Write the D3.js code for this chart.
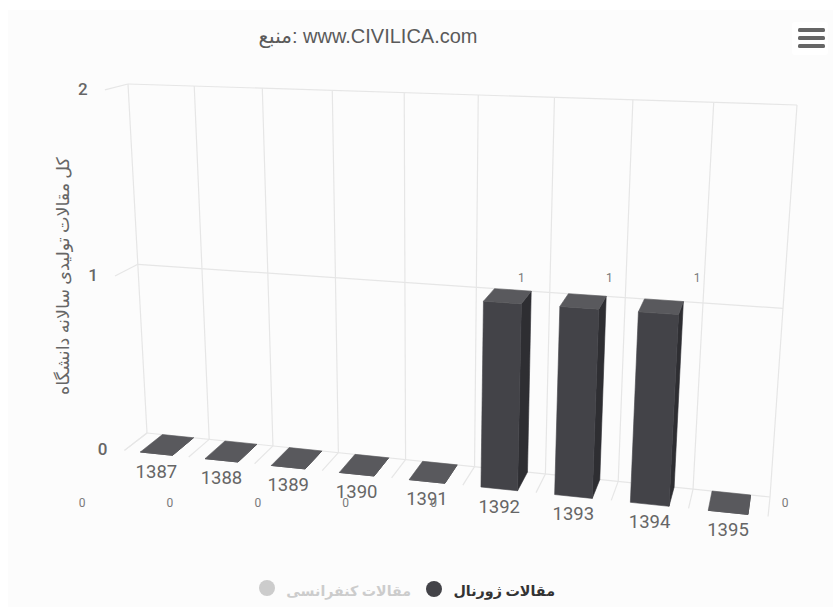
<!DOCTYPE html>
<html>
<head>
<meta charset="utf-8">
<script src="https://cdn.jsdelivr.net/npm/d3@7"></script>
<style>
  body { margin: 0; background: #fff; }
  text { font-family: Roboto, "DejaVu Sans", sans-serif; }
</style>
</head>
<body>
<div id="chart"></div>
<script>
// chart data
var years = ["1387", "1388", "1389", "1390", "1391", "1392", "1393", "1394", "1395"];
var journalPapers = [0, 0, 0, 0, 0, 1, 1, 1, 0];
var yTicks = [0, 1, 2];
var titleText = "منبع: www.CIVILICA.com";
var yAxisTitle = "کل مقالات تولیدی سالانه دانشگاه";
var journalName = "مقالات ژورنال";
var conferenceName = "مقالات کنفرانسی";

var width = 833, height = 607;

var svg = d3.select("#chart")
    .append("svg")
    .attr("width", width)
    .attr("height", height);

svg.append("rect")
    .attr("x", 8).attr("y", 10)
    .attr("width", width - 8).attr("height", height - 10)
    .attr("fill", "#fcfcfc");

// scales work in the unit cube, project() turns that into pixels
var xBand = d3.scaleBand().domain(years).range([0, 1]).paddingInner(0.5).paddingOuter(0.25);
var xGrid = d3.scaleLinear().domain([0, years.length]).range([0, 1]);
var yUnit = d3.scaleLinear().domain([0, 2]).range([0, 1]);

// back wall corners: bottom left, bottom right, top right, top left
var wall = [[147, 433], [770, 497], [797, 105], [128, 84]];
var vanish = [829, -93];   // depth lines meet here
var depthGrow = 0.033;

var dx1 = wall[1][0] - wall[2][0], dx2 = wall[3][0] - wall[2][0],
    dx3 = wall[0][0] - wall[1][0] + wall[2][0] - wall[3][0],
    dy1 = wall[1][1] - wall[2][1], dy2 = wall[3][1] - wall[2][1],
    dy3 = wall[0][1] - wall[1][1] + wall[2][1] - wall[3][1],
    det = dx1 * dy2 - dx2 * dy1,
    g = (dx3 * dy2 - dx2 * dy3) / det,
    h = (dx1 * dy3 - dx3 * dy1) / det,
    a = wall[1][0] - wall[0][0] + g * wall[1][0],
    b = wall[3][0] - wall[0][0] + h * wall[3][0],
    d = wall[1][1] - wall[0][1] + g * wall[1][1],
    e = wall[3][1] - wall[0][1] + h * wall[3][1];

function project(u, v, w) {
    var q = g * u + h * v + 1;
    var px = (a * u + b * v + wall[0][0]) / q;
    var py = (d * u + e * v + wall[0][1]) / q;
    var s = 1 + depthGrow * w;
    return [vanish[0] + s * (px - vanish[0]), vanish[1] + s * (py - vanish[1])];
}

var line = d3.line();

// Grid
// --------------------------------------------------------------------------------
var grid = svg.append("g")
    .attr("fill", "none")
    .attr("stroke", "#e6e6e6")
    .attr("stroke-width", 1.2);

// vertical lines on the back wall and depth lines on the floor
d3.range(years.length + 1).forEach(function (i) {
    var u = xGrid(i);
    grid.append("path").attr("d", line([project(u, 0, 0), project(u, 1, 0)]));
    grid.append("path").attr("d", line([project(u, 0, 0), project(u, 0, 1)]));
});

// horizontal lines on the back wall with the short piece on the left
yTicks.forEach(function (t) {
    var v = yUnit(t);
    grid.append("path").attr("d", line([project(0, v, 0), project(1, v, 0)]));
    grid.append("path").attr("d", line([project(0, v, 0), project(0, v, 1)]));
});

// y tick labels
svg.append("g").selectAll("text")
    .data(yTicks)
    .enter()
    .append("text")
    .attr("x", function (t) { return project(0, yUnit(t), 1)[0] - 22; })
    .attr("y", function (t) { return project(0, yUnit(t), 1)[1] + 5; })
    .attr("text-anchor", "middle")
    .attr("font-size", 17)
    .attr("font-weight", 500)
    .attr("fill", "#666666")
    .text(function (t) { return t; });

// Bars
// --------------------------------------------------------------------------------
var bars = svg.append("g");

function face(points, color) {
    bars.append("path")
        .attr("d", line(points) + "Z")
        .attr("fill", color)
        .attr("stroke", color)
        .attr("stroke-width", 0.6)
        .attr("stroke-linejoin", "round");
}

years.forEach(function (year, i) {
    var u0 = xBand(year),
        u1 = u0 + xBand.bandwidth(),
        top = yUnit(journalPapers[i]);

    // right side
    face([project(u1, 0, 1), project(u1, 0, 0), project(u1, top, 0), project(u1, top, 1)], "#2e2e32");
    // front
    face([project(u0, 0, 1), project(u1, 0, 1), project(u1, top, 1), project(u0, top, 1)], "#434348");
    // top
    face([project(u0, top, 1), project(u1, top, 1), project(u1, top, 0), project(u0, top, 0)], "#59595d");
});

// year labels under the front edge
svg.append("g").selectAll("text")
    .data(years)
    .enter()
    .append("text")
    .attr("x", function (y) { return project(xBand(y) + xBand.bandwidth() / 2, 0, 1)[0]; })
    .attr("y", function (y) { return project(xBand(y) + xBand.bandwidth() / 2, 0, 1)[1] + 24; })
    .attr("text-anchor", "middle")
    .attr("font-size", 18.5)
    .attr("fill", "#666666")
    .text(function (y) { return y; });

// data labels sit on a flat, unprojected grid
var xLabel = d3.scalePoint().domain(years).range([82, 785]);
var yLabel = d3.scaleLinear().domain([0, 1]).range([507, 282]);

svg.append("g").selectAll("text")
    .data(journalPapers)
    .enter()
    .append("text")
    .attr("x", function (v, i) { return xLabel(years[i]); })
    .attr("y", function (v) { return yLabel(v); })
    .attr("text-anchor", "middle")
    .attr("font-size", 12)
    .attr("fill", "#7a7a7a")
    .text(function (v) { return v; });

// Title and axis title
// --------------------------------------------------------------------------------
svg.append("text")
    .attr("x", 368)
    .attr("y", 43)
    .attr("text-anchor", "middle")
    .attr("font-size", 20)
    .style("font-family", '"Liberation Sans", "DejaVu Sans", sans-serif')
    .attr("fill", "#5a5a5a")
    .text(titleText);

svg.append("text")
    .attr("transform", "translate(69,276) rotate(-90)")
    .attr("text-anchor", "middle")
    .attr("font-size", 17.5)
    .attr("fill", "#666666")
    .text(yAxisTitle);

// Menu button
// --------------------------------------------------------------------------------
svg.append("rect")
    .attr("x", 792).attr("y", 22)
    .attr("width", 36).attr("height", 33)
    .attr("rx", 3)
    .attr("fill", "#ffffff");

svg.append("g").selectAll("rect")
    .data([30, 38, 46])
    .enter()
    .append("rect")
    .attr("x", 798)
    .attr("y", function (y) { return y - 2; })
    .attr("width", 27)
    .attr("height", 4)
    .attr("rx", 1.5)
    .attr("fill", "#666666");

// Legend
// --------------------------------------------------------------------------------
svg.append("circle").attr("cx", 434).attr("cy", 589).attr("r", 8).attr("fill", "#434348");
svg.append("text")
    .attr("x", 555).attr("y", 596)
    .attr("text-anchor", "end")
    .attr("font-size", 14.3)
    .attr("font-weight", 700)
    .attr("fill", "#333333")
    .text(journalName);

svg.append("circle").attr("cx", 267).attr("cy", 588).attr("r", 8).attr("fill", "#cccccc");
svg.append("text")
    .attr("x", 411).attr("y", 596)
    .attr("text-anchor", "end")
    .attr("font-size", 14.2)
    .attr("font-weight", 700)
    .attr("fill", "#cccccc")
    .text(conferenceName);
</script>
</body>
</html>
